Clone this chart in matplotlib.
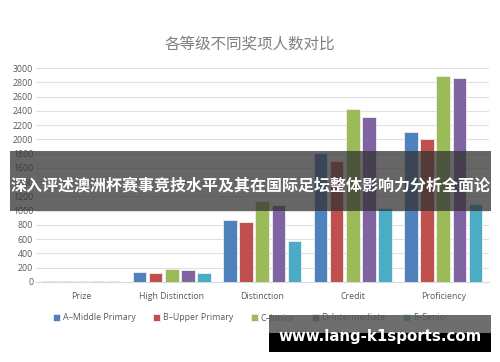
import matplotlib
matplotlib.use("Agg")
import matplotlib.pyplot as plt
import numpy as np
from matplotlib.patches import Rectangle

categories = ["Prize", "High Distinction", "Distinction", "Credit", "Proficiency"]
series_names = ["A\u2013Middle Primary", "B\u2013Upper Primary", "C\u2013Junior", "D\u2013Intermediate", "E\u2013Senior"]
a_middle = [20, 135, 870, 1805, 2105]
b_upper = [15, 130, 845, 1690, 2000]
c_junior = [20, 180, 1140, 2425, 2893]
d_inter = [20, 165, 1080, 2318, 2865]
e_senior = [10, 130, 580, 1033, 1093]
yticks = list(range(0, 3001, 200))
colors = ["#4F81BD", "#C0504D", "#9BBB59", "#8064A2", "#4BACC6"]
title = "各等级不同奖项人数对比"
banner = "深入评述澳洲杯赛事竞技水平及其在国际足坛整体影响力分析全面论"
watermark = "www.lang-k1sports.com"

plt.rcParams['font.family'] = ['Open Sans', 'DejaVu Sans']
fig = plt.figure(figsize=(5, 3.62), dpi=100)
ax = fig.add_axes([0.072, 0.221, 0.905, 0.591])

series = [a_middle, b_upper, c_junior, d_inter, e_senior]
x = np.arange(len(categories))
slot = 0.178
bw = 0.15
for i, (vals, name, c) in enumerate(zip(series, series_names, colors)):
    ax.bar(x + (i - 2) * slot, vals, bw, color=c, label=name, edgecolor="#f0f0f0", linewidth=0.6, zorder=3)

ax.set_xlim(-0.5, len(categories) - 0.5)
ax.set_ylim(0, 3000)
ax.set_yticks(yticks)
ax.set_xticks(x)
ax.set_xticklabels(categories)
ax.tick_params(axis='both', length=0, labelsize=6.3, labelcolor="#595959")
ax.tick_params(axis='x', pad=7)
ax.tick_params(axis='y', pad=2)
for s in ["top", "right", "left"]:
    ax.spines[s].set_visible(False)
ax.spines["bottom"].set_color("#D9D9D9")
ax.grid(axis='y', color="#E0E0E0", linewidth=0.8, zorder=0)
ax.set_axisbelow(True)

leg = ax.legend(loc="upper center", bbox_to_anchor=(0.475, -0.11), ncol=5, frameon=False,
                fontsize=6.3, handlelength=0.8, handleheight=0.8, handletextpad=0.3,
                columnspacing=2.0, labelcolor="#595959")

fig.text(0.5, 0.878, title, ha="center", va="center", fontsize=11.2,
         color="#7f7f7f", family=["Noto Sans CJK SC", "DejaVu Sans"])

# banner overlay
fig.patches.append(Rectangle((10 / 500, 1 - 211 / 362), 481 / 500, 60 / 362,
                             transform=fig.transFigure, facecolor="#333333", alpha=0.75,
                             edgecolor="none", zorder=10))
fig.text(250.5 / 500, 1 - 186 / 362, banner, ha="center", va="center", fontsize=11.5,
         color="white", fontweight="bold", family=["Noto Sans CJK SC", "DejaVu Sans"], zorder=11)

# watermark
fig.patches.append(Rectangle((269 / 500, 1 - 333 / 362), 222 / 500, 18 / 362,
                             transform=fig.transFigure, facecolor="#555555", alpha=0.85,
                             edgecolor="none", zorder=10))
fig.patches.append(Rectangle((269 / 500, 1 - 352 / 362), 222 / 500, 19 / 362,
                             transform=fig.transFigure, facecolor="black",
                             edgecolor="none", zorder=10))
fig.text(380 / 500, 1 - 337 / 362, watermark, ha="center", va="center", fontsize=10.8,
         color="white", fontweight="bold", family=["DejaVu Sans"], zorder=11)

fig.savefig("out.png", dpi=100)
